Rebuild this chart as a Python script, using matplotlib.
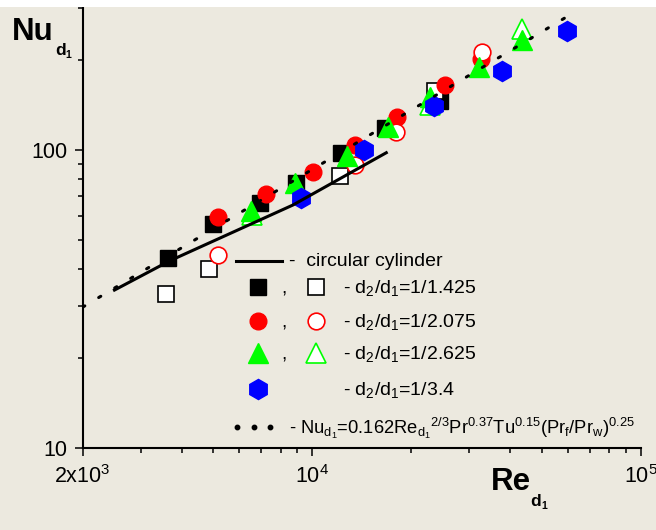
import numpy as np
import matplotlib
matplotlib.use("Agg")
import matplotlib.pyplot as plt
from matplotlib.ticker import FixedLocator, NullFormatter, FixedFormatter
from matplotlib.lines import Line2D
from matplotlib.patches import Rectangle

plt.rcParams["font.family"] = ["Liberation Sans", "DejaVu Sans"]
plt.rcParams["mathtext.fontset"] = "custom"
plt.rcParams["mathtext.rm"] = "Liberation Sans"
plt.rcParams["mathtext.it"] = "Liberation Sans"
plt.rcParams["mathtext.bf"] = "Liberation Sans:bold"

# ---- measured data (Re_d1, Nu_d1) ----
re_sq_fill = [3640, 4990, 6920, 8920, 12250, 16590, 24380]
nu_sq_fill = [43.3, 56.3, 66.6, 77.6, 97.5, 118.2, 146]
re_sq_open = [3597, 4854, 12100, 23530]
nu_sq_open = [32.8, 39.8, 81.8, 157.8]

re_ci_fill = [5165, 7200, 10040, 13510, 18070, 25370, 32630]
nu_ci_fill = [59.8, 71.2, 84.1, 103.9, 129.3, 165.2, 202]
re_ci_open = [5165, 13450, 18000, 32800]
nu_ci_open = [44.4, 89.1, 115.2, 213]

re_tr_fill = [6495, 8880, 12740, 16970, 22730, 32250, 43480]
nu_tr_fill = [62.4, 77.8, 95.5, 119.7, 151, 190.4, 233.9]
re_tr_open = [6560, 22730, 43480]
nu_tr_open = [60.5, 142, 254]

re_hex = [9260, 14320, 23370, 37790, 59570]
nu_hex = [68.9, 100, 140.5, 184.5, 250.8]

# circular cylinder reference curve
re_cyl = [2475, 3684, 8730, 16940]
nu_cyl = [33.7, 42.5, 65.4, 98.5]

# correlation line end points
re_corr = [2000, 64000]
nu_corr = [29.7, 294]

x_ticks = [2e3, 1e4, 1e5]
x_ticklabels = ["2x10$^3$", "10$^4$", "10$^5$"]
y_ticks = [10, 100]
y_ticklabels = ["10", "100"]

BG = "#ECE9DF"
W, H = 656, 530
fig = plt.figure(figsize=(W / 100, H / 100), dpi=100, facecolor=BG)
fig.patches.append(Rectangle((0, 1 - 7 / H), 1, 7 / H, transform=fig.transFigure,
                             facecolor="white", edgecolor="none", zorder=0))

ax = fig.add_axes([82.7 / W, 1 - 448 / H, (641 - 82.7) / W, (448 - 7) / H])
ax.set_facecolor(BG)
ax.set_xscale("log")
ax.set_yscale("log")
ax.set_xlim(2e3, 1e5)
ax.set_ylim(10, 302)

for s in ["top", "right"]:
    ax.spines[s].set_visible(False)
for s in ["left", "bottom"]:
    ax.spines[s].set_linewidth(1.5)

ax.xaxis.set_major_locator(FixedLocator(x_ticks))
ax.xaxis.set_major_formatter(FixedFormatter(x_ticklabels))
ax.xaxis.set_minor_locator(FixedLocator([3e3, 4e3, 5e3, 6e3, 7e3, 8e3, 9e3,
                                         2e4, 3e4, 4e4, 5e4, 6e4, 7e4, 8e4, 9e4]))
ax.xaxis.set_minor_formatter(NullFormatter())
ax.yaxis.set_major_locator(FixedLocator(y_ticks))
ax.yaxis.set_major_formatter(FixedFormatter(y_ticklabels))
ax.yaxis.set_minor_locator(FixedLocator([20, 30, 40, 50, 60, 70, 80, 90, 200, 300]))
ax.yaxis.set_minor_formatter(NullFormatter())
ax.tick_params(which="major", length=6, width=1.1, direction="out", labelsize=15.5, pad=5)
ax.tick_params(which="minor", length=3.5, width=1.1, direction="out")
ax.tick_params(axis="x", which="major", pad=6)

RED, GREEN, BLUE = "#FF0000", "#00FF00", "#0000FF"
ms_sq, ms_ci, ms_tr, ms_hx = 11, 12, 14, 14.5
ax.plot(re_sq_fill, nu_sq_fill, "s", ms=ms_sq, color="black", zorder=3)
ax.plot(re_sq_open, nu_sq_open, "s", ms=ms_sq, mfc="white", mec="black", mew=1.2, zorder=3.1)
ax.plot(re_ci_fill, nu_ci_fill, "o", ms=ms_ci, color=RED, mec=RED, zorder=3.2)
ax.plot(re_ci_open, nu_ci_open, "o", ms=ms_ci, mfc="white", mec=RED, mew=1.2, zorder=3.3)
ax.plot(re_tr_fill, nu_tr_fill, "^", ms=ms_tr, color=GREEN, mec=GREEN, zorder=3.4)
ax.plot(re_tr_open, nu_tr_open, "^", ms=ms_tr, mfc="white", mec=GREEN, mew=1.2, zorder=3.35)
ax.plot(re_hex, nu_hex, "h", ms=ms_hx, color=BLUE, mec=BLUE, zorder=3.5)

ax.plot(re_cyl, nu_cyl, "-", color="black", lw=2.2, zorder=4, solid_capstyle="butt")
ax.plot(re_corr, nu_corr, color="black", lw=2.2, linestyle=(0, (0.8, 5.3)),
        dash_capstyle="round", zorder=4.1)

# ---- legend (figure pixel coordinates, origin top-left) ----
def fx(x):
    return x / W

def fy(y):
    return 1 - y / H

fig.add_artist(Line2D([fx(236), fx(282)], [fy(261), fy(261)], color="black", lw=2.2))
fig.text(fx(289), fy(261), "-  circular cylinder", fontsize=14, va="center", ha="left")

rows = [
    (287, "s", "black", "black", "white", "- d$_2$/d$_1$=1/1.425", ms_sq),
    (321, "o", RED, RED, "white", "- d$_2$/d$_1$=1/2.075", ms_ci),
    (353, "^", GREEN, GREEN, "white", "- d$_2$/d$_1$=1/2.625", ms_tr),
]
for y, m, fc, ec, oc, label, ms in rows:
    fig.add_artist(Line2D([fx(258)], [fy(y)], marker=m, ms=ms, mfc=fc, mec=ec, ls="none"))
    fig.text(fx(281), fy(y + 2), ",", fontsize=14, va="center", ha="left")
    fig.add_artist(Line2D([fx(316)], [fy(y)], marker=m, ms=ms, mfc=oc, mec=ec, mew=1.2, ls="none"))
    fig.text(fx(343), fy(y + 1), label, fontsize=14, va="center", ha="left")

fig.add_artist(Line2D([fx(258)], [fy(389)], marker="h", ms=ms_hx, mfc=BLUE, mec=BLUE, ls="none"))
fig.text(fx(343), fy(390), "- d$_2$/d$_1$=1/3.4", fontsize=14, va="center", ha="left")

# three-dot sample for the correlation line
fig.add_artist(Line2D([fx(237), fx(253.7), fx(270.4)], [fy(427)] * 3, color="black",
                      marker="o", ms=3.2, ls="none"))
fig.text(fx(289), fy(428),
         "- Nu$_{d_1}$=0.162Re$_{d_1}$${}^{2/3}$Pr$^{0.37}$Tu$^{0.15}$(Pr$_f$/Pr$_w$)$^{0.25}$",
         fontsize=13.2, va="center", ha="left")

# ---- axis titles ----
fig.text(fx(12), fy(40.5), "Nu", fontsize=22.5, fontweight="bold", va="baseline", ha="left")
fig.text(fx(55), fy(55), "d", fontsize=12.5, fontweight="bold", va="baseline", ha="left")
fig.text(fx(65.5), fy(57.5), "1", fontsize=7.5, fontweight="bold", va="baseline", ha="left")

fig.text(fx(491), fy(490), "Re", fontsize=22.5, fontweight="bold", va="baseline", ha="left")
fig.text(fx(530), fy(506), "d", fontsize=12.5, fontweight="bold", va="baseline", ha="left")
fig.text(fx(541), fy(509), "1", fontsize=7.5, fontweight="bold", va="baseline", ha="left")

fig.savefig("out.png", dpi=100, facecolor=BG)
